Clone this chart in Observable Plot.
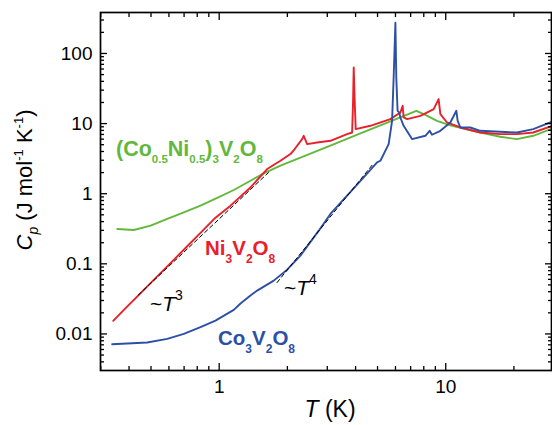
<!DOCTYPE html>
<html>
<head>
<meta charset="utf-8">
<script src="https://cdn.jsdelivr.net/npm/d3@7"></script>
<script src="https://cdn.jsdelivr.net/npm/@observablehq/plot@0.6"></script>
<style>
  html, body { margin: 0; padding: 0; background: #fff; overflow: hidden; }
  svg { display: block; }
</style>
</head>
<body>
<div id="chart"></div>
<script>
// ---- Data ----
// (Co0.5Ni0.5)3V2O8
const coNiT  = [0.355, 0.42, 0.498, 0.59, 0.698, 0.827, 0.98, 1.16, 1.374, 1.573, 1.864, 2.284, 3.097, 4.20, 5.697, 7.42, 8.13, 9.15, 10.48, 11.6, 14.21, 17.41, 20.6, 24.34, 29.3];
const coNiCp = [0.314, 0.304, 0.35, 0.436, 0.542, 0.675, 0.869, 1.129, 1.53, 1.95, 2.51, 3.27, 4.86, 7.23, 10.75, 15.2, 13.35, 10.96, 9.46, 8.71, 7.46, 6.49, 6.01, 6.70, 8.4];

// Ni3V2O8
const niT  = [0.3406, 0.3843, 0.4477, 0.5236, 0.6097, 0.7102, 0.827, 0.963, 1.122, 1.374, 1.628, 1.864, 2.063, 2.15, 2.323, 2.361, 2.445, 2.706, 3.097, 3.669, 3.862, 3.90, 3.925, 3.964, 4.005, 4.65, 5.697, 6.305, 6.455, 6.52, 6.75, 7.73, 8.85, 9.30, 9.47, 10.13, 11.6, 14.21, 17.41, 20.63, 24.34, 29.3];
const niCp = [0.0154, 0.023, 0.0376, 0.0625, 0.1023, 0.168, 0.2765, 0.455, 0.675, 1.229, 2.249, 2.951, 3.677, 4.3, 6.0, 6.70, 5.105, 5.382, 5.69, 7.08, 7.46, 21.1, 63.0, 21.1, 8.35, 9.30, 11.59, 14.4, 17.93, 12.22, 11.59, 12.91, 16.09, 22.34, 13.66, 10.37, 8.80, 7.46, 7.08, 7.08, 7.46, 9.2];

// Co3V2O8
const coT  = [0.337, 0.481, 0.59, 0.698, 0.827, 0.963, 1.16, 1.242, 1.374, 1.471, 1.741, 1.995, 2.284, 2.751, 3.097, 3.669, 4.344, 4.977, 5.147, 5.598, 5.797, 5.89, 5.996, 6.05, 6.13, 6.24, 6.305, 6.52, 7.10, 8.13, 8.49, 8.70, 9.47, 10.48, 11.14, 11.29, 11.6, 12.84, 14.21, 20.63, 24.34, 29.3];
const coCp = [0.00713, 0.00754, 0.00851, 0.01003, 0.01246, 0.0155, 0.0220, 0.0272, 0.0354, 0.0415, 0.0576, 0.0826, 0.131, 0.297, 0.514, 0.937, 1.707, 2.792, 2.951, 5.105, 10.96, 45.4, 275, 45.4, 15.22, 14.3, 12.22, 9.30, 6.01, 6.70, 7.89, 6.93, 7.89, 10.37, 15.22, 10.96, 8.80, 8.80, 7.89, 7.46, 8.35, 10.6];

// power-law guide lines (end points)
const fit3T  = [0.44, 1.65];
const fit3Cp = [0.036, 2.0];
const fit4T  = [1.8, 4.8];
const fit4Cp = [0.054, 2.7];

// Ticks
const xMajor = [1, 10];
const xMajorLabels = ["1", "10"];
const xMinor = [0.3, 0.4, 0.5, 0.6, 0.7, 0.8, 0.9, 2, 3, 4, 5, 6, 7, 8, 9, 20];
const yMajor = [0.01, 0.1, 1, 10, 100];
const yMajorLabels = ["0.01", "0.1", "1", "10", "100"];
const yMinor = [0.004, 0.005, 0.006, 0.007, 0.008, 0.009,
                0.02, 0.03, 0.04, 0.05, 0.06, 0.07, 0.08, 0.09,
                0.2, 0.3, 0.4, 0.5, 0.6, 0.7, 0.8, 0.9,
                2, 3, 4, 5, 6, 7, 8, 9,
                20, 30, 40, 50, 60, 70, 80, 90, 200, 300];

// Colours
const GREEN = "#62b83c";
const RED = "#e8202a";
const BLUE = "#2d50a5";

const rows = (T, C) => T.map((t, i) => ({T: t, Cp: C[i]}));

const FONT = "'Liberation Sans', Arial, Helvetica, sans-serif";

const noLab = {label: null};
const plot = Plot.plot({
  width: 552,
  height: 425,
  marginLeft: 100,
  marginRight: 1,
  marginTop: 12,
  marginBottom: 55,
  style: {fontFamily: FONT, fontSize: "19px", color: "#000", background: "#fff"},
  x: {type: "log", domain: [0.2993, 29.3]},
  y: {type: "log", domain: [0.00301, 384]},
  marks: [
    Plot.line(rows(coNiT, coNiCp), {x: "T", y: "Cp", stroke: GREEN, strokeWidth: 1.9}),
    Plot.line(rows(niT, niCp), {x: "T", y: "Cp", stroke: RED, strokeWidth: 1.9}),
    Plot.line(rows(coT, coCp), {x: "T", y: "Cp", stroke: BLUE, strokeWidth: 1.9}),
    Plot.line(rows(fit3T, fit3Cp), {x: "T", y: "Cp", stroke: "#000", strokeWidth: 1, strokeDasharray: "4,3"}),
    Plot.line(rows(fit4T, fit4Cp), {x: "T", y: "Cp", stroke: "#000", strokeWidth: 1, strokeDasharray: "4,3"}),
    Plot.frame({stroke: "#000", strokeWidth: 1.7}),
    Plot.axisX(xMajor, {anchor: "bottom", tickSize: 0, tickPadding: 9, tickFormat: d => xMajorLabels[xMajor.indexOf(d)], ...noLab}),
    Plot.axisX(xMajor, {anchor: "bottom", tickSize: -7, strokeWidth: 1.3, fill: "none", ...noLab}),
    Plot.axisX(xMinor, {anchor: "bottom", tickSize: -4, strokeWidth: 1.3, fill: "none", ...noLab}),
    Plot.axisX(xMajor, {anchor: "top", tickSize: -7, strokeWidth: 1.3, fill: "none", ...noLab}),
    Plot.axisX(xMinor, {anchor: "top", tickSize: -4, strokeWidth: 1.3, fill: "none", ...noLab}),
    Plot.axisY(yMajor, {anchor: "left", tickSize: 0, tickPadding: 8, tickFormat: d => yMajorLabels[yMajor.indexOf(d)], ...noLab}),
    Plot.axisY(yMajor, {anchor: "left", tickSize: -7, strokeWidth: 1.3, fill: "none", ...noLab}),
    Plot.axisY(yMinor, {anchor: "left", tickSize: -4, strokeWidth: 1.3, fill: "none", ...noLab}),
    Plot.axisY(yMajor, {anchor: "right", tickSize: -7, strokeWidth: 1.3, fill: "none", ...noLab}),
    Plot.axisY(yMinor, {anchor: "right", tickSize: -4, strokeWidth: 1.3, fill: "none", ...noLab})
  ]
});

document.getElementById("chart").appendChild(plot);

// ---- Rich text annotations (sub/superscripts) ----
const svg = d3.select(plot);
const g = svg.append("g").attr("font-family", FONT).style("white-space", "pre");

function rich(x, y, parts, opt) {
  const t = g.append("text")
    .attr("x", x).attr("y", y)
    .attr("font-size", opt.size)
    .attr("font-weight", opt.weight || "normal")
    .attr("fill", opt.fill || "#000")
    .attr("text-anchor", opt.anchor || "start");
  if (opt.rotate) t.attr("transform", `rotate(-90 ${x} ${y})`);
  let cur = 0;
  for (const p of parts) {
    const shift = p.shift || 0;
    const ts = t.append("tspan").attr("dy", shift - cur).text(p.t);
    cur = shift;
    if (p.size) ts.attr("font-size", p.size);
    if (p.italic) ts.attr("font-style", "italic");
  }
  return t;
}

const SUB = 12;
rich(116, 156, [
  {t: "(Co"}, {t: "0.5", size: 11.5, shift: 7}, {t: "Ni"}, {t: "0.5", size: 11.5, shift: 7},
  {t: ")"}, {t: "3", size: 11.5, shift: 7}, {t: "V"}, {t: "2", size: 11.5, shift: 7}, {t: "O"}, {t: "8", size: 11.5, shift: 7}
], {size: 21.5, weight: "bold", fill: GREEN});

rich(205, 255, [
  {t: "Ni"}, {t: "3", size: SUB, shift: 8}, {t: "V"}, {t: "2", size: SUB, shift: 8}, {t: "O"}, {t: "8", size: SUB, shift: 8}
], {size: 20.5, weight: "bold", fill: RED});

rich(218, 345, [
  {t: "Co"}, {t: "3", size: SUB, shift: 8}, {t: "V"}, {t: "2", size: SUB, shift: 8}, {t: "O"}, {t: "8", size: SUB, shift: 8}
], {size: 20.5, weight: "bold", fill: BLUE});

rich(150, 311, [
  {t: "~"}, {t: "T", italic: true}, {t: "3", size: 14, shift: -11}
], {size: 21});

rich(284, 295, [
  {t: "~"}, {t: "T", italic: true}, {t: "4", size: 14, shift: -11}
], {size: 21});

rich(330, 417, [
  {t: "T", italic: true}, {t: " (K)"}
], {size: 23, anchor: "middle"});

rich(32, 180, [
  {t: "C", italic: true}, {t: "p", italic: true, size: 14, shift: 6}, {t: " (J mol"},
  {t: "-1", size: 13, shift: -9}, {t: " K"}, {t: "-1", size: 13, shift: -9}, {t: ")"}
], {size: 22, anchor: "middle", rotate: true});
</script>
</body>
</html>
